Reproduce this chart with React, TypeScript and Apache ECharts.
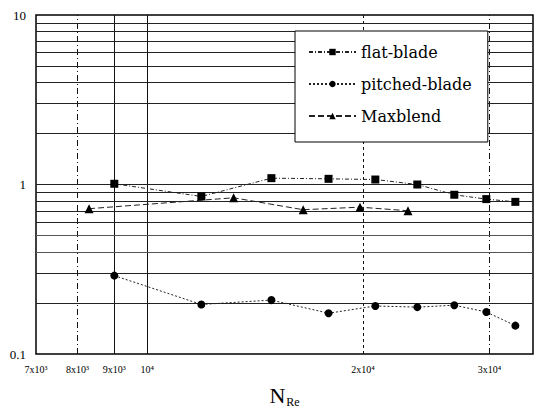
import React, { useEffect, useRef } from "react";
import * as echarts from "echarts";

const flatX = [9000, 11900, 14900, 17900, 20800, 23800, 26800, 29700, 32600];
const flatY = [1.01, 0.85, 1.09, 1.08, 1.07, 1.0, 0.87, 0.82, 0.79];
const pitchedX = [9000, 11900, 14900, 17900, 20800, 23800, 26800, 29700, 32600];
const pitchedY = [0.29, 0.196, 0.208, 0.174, 0.192, 0.189, 0.194, 0.177, 0.147];
const maxX = [8300, 13200, 16500, 19800, 23100];
const maxY = [0.72, 0.835, 0.71, 0.735, 0.7];

const xTickValues = [7000, 8000, 9000, 10000, 20000, 30000];
const xTickLabels = ["7x10³", "8x10³", "9x10³", "10⁴", "2x10⁴", "3x10⁴"];
const yMinorValues = [0.2, 0.3, 0.4, 0.5, 0.6, 0.7, 0.8, 0.9, 1, 2, 3, 4, 5, 6, 7, 8, 9];

const X_MIN = 7000;
const X_MAX = 34500;

export default function App() {
  const ref = useRef<HTMLDivElement>(null);
  useEffect(() => {
    document.body.style.margin = "0";
    const chart = echarts.init(ref.current!, null, { renderer: "svg" });
    const vStyles: any[] = [
      { color: "rgba(0,0,0,0)", width: 1 },
      { color: "#111", type: [6, 3, 1, 3], width: 1 },
      { color: "#111", type: "solid", width: 1 },
      { color: "#111", type: "solid", width: 1 },
      { color: "#111", type: [3, 3], width: 1 },
      { color: "#111", type: [6, 3, 1, 3], width: 1 },
    ];
    const vLines = xTickValues.map((v, i) => ({
      xAxis: v,
      name: xTickLabels[i],
      lineStyle: vStyles[i],
    }));
    const hLines = yMinorValues.map((v) => ({
      yAxis: v,
      lineStyle: { color: v === 0.4 || v === 0.5 ? "#555" : "#222", width: 1, type: "solid" },
      label: { show: false },
    }));
    const pair = (xs: number[], ys: number[]) => xs.map((x, i) => [x, ys[i]]);
    chart.setOption({
      animation: false,
      backgroundColor: "#fff",
      grid: {
        left: 36,
        right: 9,
        top: 15,
        bottom: 62,
        show: true,
        borderColor: "#000",
        borderWidth: 1.5,
        backgroundColor: "transparent",
      },
      xAxis: {
        type: "log",
        logBase: 10,
        min: X_MIN,
        max: X_MAX,
        axisLine: { show: false },
        axisTick: { show: false },
        axisLabel: { show: false },
        splitLine: { show: false },
        name: "{n|N}{s|Re}",
        nameLocation: "middle",
        nameGap: 28,
        nameTextStyle: {
          rich: {
            n: { fontFamily: "Liberation Serif", fontSize: 22, color: "#000" },
            s: { fontFamily: "Liberation Serif", fontSize: 12, color: "#000", padding: [14, 0, 0, 1] },
          },
        },
      },
      yAxis: {
        type: "log",
        logBase: 10,
        min: 0.1,
        max: 10,
        axisLine: { show: false },
        axisTick: { show: false },
        splitLine: { show: false },
        axisLabel: {
          fontFamily: "Liberation Serif",
          fontSize: 13,
          color: "#000",
          margin: 10,
          formatter: (v: number) => (v < 0.5 ? "0.1" : v < 5 ? "1" : "10"),
        },
      },
      legend: {
        data: ["flat-blade", "pitched-blade", "Maxblend"],
        orient: "vertical",
        left: 295,
        top: 31,
        itemWidth: 47,
        itemHeight: 8,
        itemGap: 16,
        padding: [13, 16, 18, 13],
        backgroundColor: "#fff",
        borderColor: "#000",
        borderWidth: 1,
        z: 10,
        textStyle: { fontFamily: "DejaVu Serif", fontSize: 16, color: "#000" },
      },
      series: [
        {
          name: "grid-v",
          type: "line",
          data: [],
          silent: true,
          z: 1,
          markLine: {
            silent: true,
            symbol: "none",
            animation: false,
            label: {
              show: true,
              position: "start",
              formatter: "{b}",
              fontFamily: "Liberation Serif",
              fontSize: 10,
              color: "#000",
              distance: 10,
            },
            data: vLines,
          },
        },
        {
          name: "grid-h",
          type: "line",
          data: [],
          silent: true,
          z: 1,
          markLine: {
            silent: true,
            symbol: "none",
            animation: false,
            label: { show: false },
            data: hLines,
          },
        },
        {
          name: "flat-blade",
          type: "line",
          data: pair(flatX, flatY),
          symbol: "rect",
          symbolSize: 8,
          z: 5,
          itemStyle: { color: "#000" },
          lineStyle: { color: "#222", width: 1, type: [4, 2, 1, 2] },
        },
        {
          name: "pitched-blade",
          type: "line",
          data: pair(pitchedX, pitchedY),
          symbol: "circle",
          symbolSize: 8,
          z: 5,
          itemStyle: { color: "#000" },
          lineStyle: { color: "#222", width: 1, type: [2, 2] },
        },
        {
          name: "Maxblend",
          type: "line",
          data: pair(maxX, maxY),
          symbol: "triangle",
          symbolSize: 9,
          z: 5,
          itemStyle: { color: "#000" },
          lineStyle: { color: "#222", width: 1, type: [6, 3] },
        },
      ],
    });
    return () => chart.dispose();
  }, []);
  return <div ref={ref} style={{ width: 542, height: 416 }} />;
}
